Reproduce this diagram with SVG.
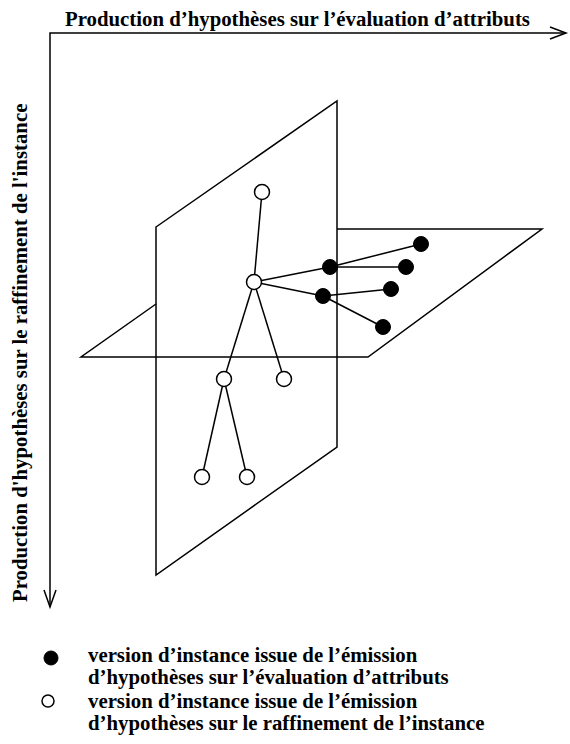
<svg xmlns="http://www.w3.org/2000/svg" width="570" height="744" viewBox="0 0 570 744">
<style>
.ln{fill:none;stroke:#000;stroke-width:1.5;stroke-linejoin:miter}
.open{fill:#fff;stroke:#000;stroke-width:1.5}
.full{fill:#000;stroke:#000;stroke-width:1}
.t{font-family:"Liberation Serif","Times New Roman",serif;font-weight:bold;fill:#000;font-size:20.8px}
</style>
<rect width="570" height="744" fill="#fff"/>
<g id="axes">
<polyline class="ln" points="50,607 50,33 566,33"/>
<polyline class="ln" points="550,27 566,33 550,39"/>
<polyline class="ln" points="44,590 50,607 56,590"/>
<text class="t" x="65" y="26">Production d’hypothèses sur l’évaluation d’attributs</text>
<text class="t" transform="translate(27,602) rotate(-90)">Production d'hypothèses sur le raffinement de l'instance</text>
</g>
<g id="planes">
<polygon class="ln" points="156,227 337,101 337,447 156,575"/>
<polyline class="ln" points="156,304 81,357 368,357 542,229 337,229"/>
</g>
<g id="connectors">
<line class="ln" x1="262" y1="192" x2="254" y2="282"/>
<line class="ln" x1="254" y1="282" x2="330" y2="267"/>
<line class="ln" x1="254" y1="282" x2="323" y2="296"/>
<line class="ln" x1="254" y1="282" x2="224" y2="379"/>
<line class="ln" x1="254" y1="282" x2="284" y2="379"/>
<line class="ln" x1="330" y1="267" x2="421" y2="244"/>
<line class="ln" x1="330" y1="267" x2="406" y2="267"/>
<line class="ln" x1="323" y1="296" x2="391" y2="289"/>
<line class="ln" x1="323" y1="296" x2="383" y2="327"/>
<line class="ln" x1="224" y1="379" x2="202" y2="477"/>
<line class="ln" x1="224" y1="379" x2="247" y2="477"/>
</g>
<g id="n1"><circle class="open" cx="262" cy="192" r="7.5"/></g>
<g id="n2"><circle class="open" cx="254" cy="282" r="7.5"/></g>
<g id="n3"><circle class="open" cx="224" cy="379" r="7.5"/></g>
<g id="n4"><circle class="open" cx="284" cy="379" r="7.5"/></g>
<g id="n5"><circle class="open" cx="202" cy="477" r="7.5"/></g>
<g id="n6"><circle class="open" cx="247" cy="477" r="7.5"/></g>
<g id="b1"><circle class="full" cx="330" cy="267" r="7.5"/></g>
<g id="b2"><circle class="full" cx="323" cy="296" r="7.5"/></g>
<g id="b3"><circle class="full" cx="421" cy="244" r="7.5"/></g>
<g id="b4"><circle class="full" cx="406" cy="267" r="7.5"/></g>
<g id="b5"><circle class="full" cx="391" cy="289" r="7.5"/></g>
<g id="b6"><circle class="full" cx="383" cy="327" r="7.5"/></g>
<g id="legend">
<circle class="full" cx="51" cy="658" r="7"/>
<circle class="open" cx="48" cy="701" r="6"/>
<text class="t" x="88" y="662">version d’instance issue de l’émission</text>
<text class="t" x="88" y="684">d’hypothèses sur l’évaluation d’attributs</text>
<text class="t" x="88" y="708">version d’instance issue de l’émission</text>
<text class="t" x="88" y="730">d’hypothèses sur le raffinement de l’instance</text>
</g>
</svg>
